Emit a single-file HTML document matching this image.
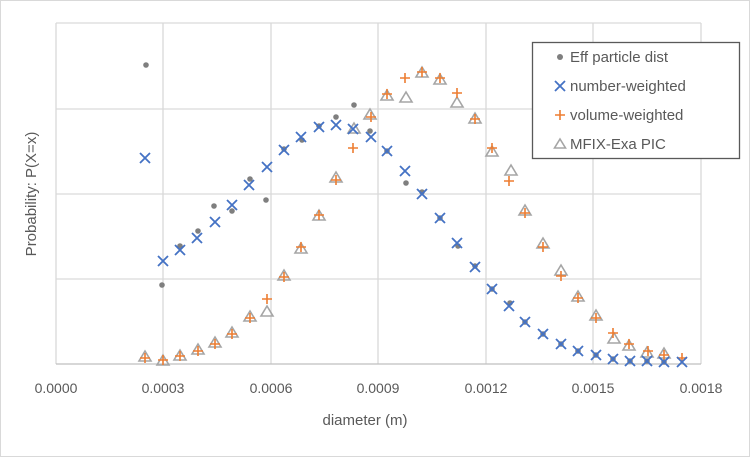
<!DOCTYPE html>
<html><head><meta charset="utf-8"><style>
html,body{margin:0;padding:0;background:#fff}
svg{display:block;font-family:"Liberation Sans",sans-serif}
</style></head><body>
<svg width="750" height="457" viewBox="0 0 750 457" xmlns="http://www.w3.org/2000/svg">
<rect x="0.5" y="0.5" width="749" height="456" fill="#fff" stroke="#d9d9d9"/>
<g stroke="#d9d9d9" stroke-width="1.3">
<line x1="56" y1="23" x2="701" y2="23"/>
<line x1="56" y1="109" x2="701" y2="109"/>
<line x1="56" y1="194" x2="701" y2="194"/>
<line x1="56" y1="279" x2="701" y2="279"/>
<line x1="56" y1="23" x2="56" y2="364"/>
<line x1="163" y1="23" x2="163" y2="364"/>
<line x1="271" y1="23" x2="271" y2="364"/>
<line x1="378" y1="23" x2="378" y2="364"/>
<line x1="486" y1="23" x2="486" y2="364"/>
<line x1="593" y1="23" x2="593" y2="364"/>
<line x1="701" y1="23" x2="701" y2="364"/>
</g>
<line x1="56" y1="364" x2="701" y2="364" stroke="#bfbfbf" stroke-width="1.3"/>
<g fill="#595959" font-size="14" text-anchor="middle">
<text x="56" y="393">0.0000</text>
<text x="163" y="393">0.0003</text>
<text x="271" y="393">0.0006</text>
<text x="378" y="393">0.0009</text>
<text x="486" y="393">0.0012</text>
<text x="593" y="393">0.0015</text>
<text x="701" y="393">0.0018</text>
<text x="365" y="425" font-size="15">diameter (m)</text>
<text transform="translate(36,194) rotate(-90)" font-size="15">Probability: P(X=x)</text>
</g>
<g id="tri" fill="none" stroke="#a5a5a5" stroke-width="1.6"></g>
<g id="plus" stroke="#ed7d31" stroke-width="1.6"></g>
<g id="dots" fill="#7f7f7f"></g>
<g id="xs" stroke="#4472c4" stroke-width="1.8"></g>
<rect x="532.5" y="42.5" width="207" height="116" fill="#fff" stroke="#595959" stroke-width="1.3"/>
<g fill="#595959" font-size="15">
<circle cx="560" cy="57" r="3" fill="#7f7f7f"/>
<text x="570" y="62">Eff particle dist</text>
<path d="M555 81l10 10M565 81l-10 10" stroke="#4472c4" stroke-width="1.8"/>
<text x="570" y="91">number-weighted</text>
<path d="M555 115h10M560 110v10" stroke="#ed7d31" stroke-width="1.6"/>
<text x="570" y="120">volume-weighted</text>
<path d="M560 139l-5.5 9h11z" fill="none" stroke="#a5a5a5" stroke-width="1.6"/>
<text x="570" y="149">MFIX-Exa PIC</text>
</g>
<script>
var NS="http://www.w3.org/2000/svg";
function add(g,tag,attrs){var e=document.createElementNS(NS,tag);for(var k in attrs)e.setAttribute(k,attrs[k]);document.getElementById(g).appendChild(e);}
var X=[[145,158],[163,261],[180,250],[197,238],[215,222],[232,205],[249,185],[267,167],[284,150],[301,137],[319,127],[336,125],[353,129],[371,137],[387,151],[405,171],[422,194],[440,218],[457,243],[475,267],[492,289],[509,306],[525,322],[543,334],[561,344],[578,351],[596,355],[613,359],[630,361],[647,361],[664,362],[682,362]];
X.forEach(function(p){add("xs","path",{d:"M"+(p[0]-5)+" "+(p[1]-5)+"l10 10M"+(p[0]+5)+" "+(p[1]-5)+"l-10 10"});});
var D=[[146,65],[162,285],[180,246],[198,231],[214,206],[232,211],[250,179],[266,200],[284,149],[302,140],[319,126],[336,117],[354,105],[370,131],[387,151],[406,183],[422,192],[440,218],[458,246],[475,266],[492,289],[510,303],[525,322],[543,334],[561,344],[578,351],[596,355],[613,359],[630,361],[647,361],[664,362]];
D.forEach(function(p){add("dots","circle",{cx:p[0],cy:p[1],r:2.8});});
var P=[[145,358],[163,360],[180,356],[198,351],[215,344],[232,334],[250,318],[267,299],[284,277],[301,247],[319,215],[336,180],[353,148],[371,117],[387,94],[405,78],[422,72],[440,78],[457,93],[475,119],[492,148],[509,181],[525,213],[543,247],[561,276],[578,298],[596,318],[613,333],[629,344],[648,351],[664,355],[682,358]];
P.forEach(function(p){add("plus","path",{d:"M"+(p[0]-5)+" "+p[1]+"h10M"+p[0]+" "+(p[1]-5)+"v10"});});
var T=[[145,357],[163,361],[180,356],[198,350],[215,343],[232,333],[250,317],[267,312],[284,276],[301,249],[319,216],[336,178],[354,129],[370,115],[387,96],[406,98],[422,73],[440,80],[457,103],[475,119],[492,152],[511,171],[525,211],[543,244],[561,271],[578,297],[596,316],[614,339],[629,346],[647,353],[664,354]];
T.forEach(function(p){add("tri","path",{d:"M"+p[0]+" "+(p[1]-6)+"l-6 10h12z"});});
</script>
</svg>
</body></html>
